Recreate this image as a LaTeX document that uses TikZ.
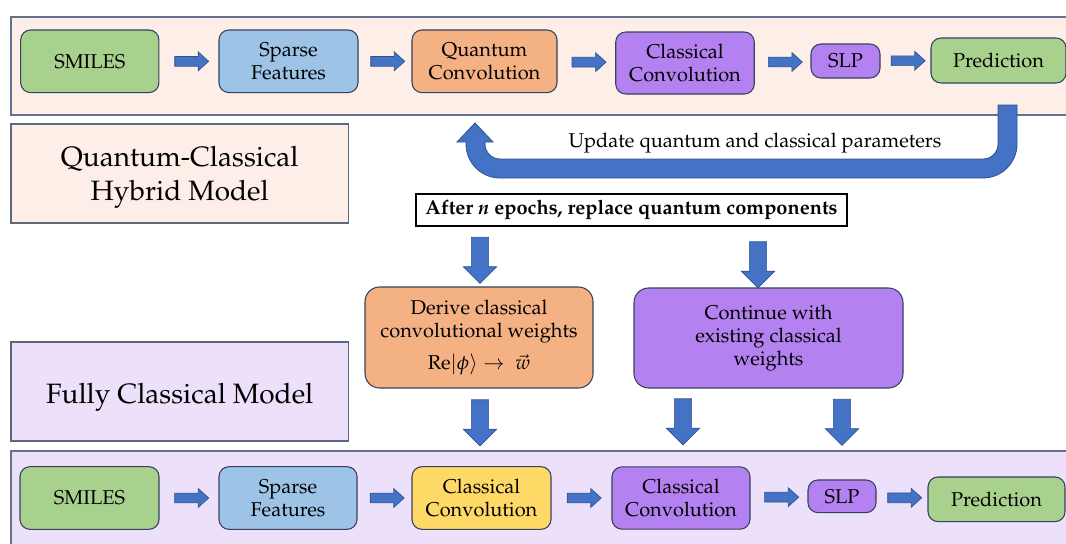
\documentclass[tikz,border=0pt]{standalone}
\usepackage[T1]{fontenc}
\usepackage{mathpazo}
\usetikzlibrary{calc,shapes.arrows}

\definecolor{panelpeach}{RGB}{253,239,231}
\definecolor{panellilac}{RGB}{237,224,250}
\definecolor{panelline}{RGB}{100,114,142}
\definecolor{boxline}{RGB}{52,66,94}
\definecolor{smilesgreen}{RGB}{169,209,142}
\definecolor{sparseblue}{RGB}{157,195,230}
\definecolor{quantorange}{RGB}{244,177,131}
\definecolor{classpurple}{RGB}{180,130,240}
\definecolor{classyellow}{RGB}{255,217,102}
\definecolor{arrowblue}{RGB}{68,114,196}
\definecolor{arrowline}{RGB}{47,82,143}

\tikzset{
	stage/.style={draw=boxline, line width=0.8pt, rounded corners=7.5pt, align=center, inner sep=0pt, font=\fontsize{15}{17.5}\selectfont},
	flowarrow/.style={single arrow, draw=arrowline, fill=arrowblue, line width=0.5pt, inner xsep=0pt, inner ysep=3.4pt, minimum height=25.5pt, single arrow head extend=3.4pt, single arrow tip angle=84},
	downarrow/.style={single arrow, draw=arrowline, fill=arrowblue, line width=0.5pt, inner xsep=0pt, inner ysep=6.2pt, minimum height=34.5pt, single arrow head extend=6pt, rotate=-90},
	panel/.style={draw=panelline, line width=1.1pt},
	modelbox/.style={draw=boxline!80!white, line width=0.9pt, minimum width=253pt, minimum height=74.25pt},
	modeltext/.style={align=center, font=\fontsize{21}{25.5}\selectfont}
}

\begin{document}
\begin{tikzpicture}[x=0.75pt,y=-0.75pt]
				\useasboundingbox (0,0) rectangle (1066,543);
				\clip (0,0) rectangle (1066,543);
				\fill[white] (0,0) rectangle (1066,543);
				
				% the two model panels
				\draw[panel, fill=panelpeach] (11,17) rectangle (1080,115);
				\draw[panel, fill=panellilac] (11,451) rectangle (1080,560);
				
				\node[modelbox, fill=panelpeach] (hybrid) at (179.75,173.5) {};
				\node[modeltext] (hybridtxt) at (179.75,177) {Quantum-Classical\\Hybrid Model};
				\node[modelbox, fill=panellilac] (fully) at (179.75,391.5) {};
				\node[modeltext] (fullytxt) at (179.75,397) {Fully Classical Model};
				
				% feedback arrow
				\draw[fill=arrowblue, draw=arrowline, line width=0.6pt] (998,105) -- (1017,105) -- (1017,144) arc[start angle=0, end angle=90, radius=34] -- (500,178) arc[start angle=90, end angle=180, radius=34] -- (466,142) -- (457,142) -- (475,123) -- (493,142) -- (485,142) -- (485,144) arc[start angle=180, end angle=90, radius=15] -- (983,159) arc[start angle=90, end angle=0, radius=15] -- cycle;
				\node[font=\fontsize{15}{17.5}\selectfont] (upd) at (755,143) {Update quantum and classical parameters};
				
				% hybrid model
				\node[stage, fill=smilesgreen, minimum width=103.7pt, minimum height=47pt] (smi1) at (89.8,61.3) {SMILES};
				\node[stage, fill=sparseblue, minimum width=104.25pt, minimum height=47pt] (sf1) at (288.5,61.3) {Sparse\\Features};
				\node[stage, fill=quantorange, minimum width=108.75pt, minimum height=47pt] (qc1) at (484.5,61.3) {Quantum\\Convolution};
				\node[stage, fill=classpurple, minimum width=103.9pt, minimum height=46.5pt] (cc1) at (685,63) {Classical\\Convolution};
				\node[stage, fill=classpurple, minimum width=51.75pt, minimum height=25.5pt] (slp1) at (845.5,61) {SLP};
				\node[stage, fill=smilesgreen, minimum width=101.25pt, minimum height=33.75pt] (pred1) at (998.5,60.5) {Prediction};
				
				\node[flowarrow] (h1) at ($(smi1.east)!0.5!(sf1.west)$) {};
				\node[flowarrow] (h2) at ($(sf1.east)!0.5!(qc1.west)$) {};
				\node[flowarrow] (h3) at ($(qc1.east)!0.5!(cc1.west)$) {};
				\node[flowarrow] (h4) at ($(cc1.east)!0.5!(slp1.west)$) {};
				\node[flowarrow] (h5) at ($(slp1.east)!0.5!(pred1.west)$) {};
				
				% switch over
				\node[draw=black, line width=1.1pt, minimum width=323.25pt, minimum height=24pt, inner sep=0pt, font=\bfseries\fontsize{15}{17.5}\selectfont] (after) at (631.5,210) {After \textit{n} epochs, replace quantum components};
				
				\node[stage, fill=quantorange, rounded corners=11pt, minimum width=171pt, minimum height=75.75pt] (derive) at (479,337.5) {Derive classical\\convolutional weights\\[6pt]$\mathrm{Re}|\phi\rangle \rightarrow\ \vec{w}$};
				\node[stage, fill=classpurple, rounded corners=11pt, minimum width=201.75pt, minimum height=75pt, font=\fontsize{15}{17.25}\selectfont] (keep) at (768.5,338) {Continue with\\existing classical\\weights};
				
				\node[downarrow] (d1) at (480,256) {};
				\node[downarrow] (d2) at (758,260.5) {};
				\node[downarrow] (d3) at (480,418.5) {};
				\node[downarrow] (d4) at (683,417.5) {};
				\node[downarrow] (d5) at (842,418) {};
				
				% fully classical model
				\node[stage, fill=smilesgreen, minimum width=104.25pt, minimum height=47pt] (smi2) at (89.5,498) {SMILES};
				\node[stage, fill=sparseblue, minimum width=103.5pt, minimum height=47pt] (sf2) at (288,498) {Sparse\\Features};
				\node[stage, fill=classyellow, minimum width=104.25pt, minimum height=47pt] (cc2) at (481.5,498) {Classical\\Convolution};
				\node[stage, fill=classpurple, minimum width=103.5pt, minimum height=46.75pt] (cc3) at (681,498) {Classical\\Convolution};
				\node[stage, fill=classpurple, minimum width=51pt, minimum height=24.5pt] (slp2) at (842,496.3) {SLP};
				\node[stage, fill=smilesgreen, minimum width=102.75pt, minimum height=33.5pt] (pred2) at (996.5,499.3) {Prediction};
				
				\node[flowarrow] (b1) at ($(smi2.east)!0.5!(sf2.west)$) {};
				\node[flowarrow] (b2) at ($(sf2.east)!0.5!(cc2.west)$) {};
				\node[flowarrow] (b3) at ($(cc2.east)!0.5!(cc3.west)$) {};
				\node[flowarrow] (b4) at ($(cc3.east)!0.5!(slp2.west)$) {};
				\node[flowarrow] (b5) at ($(slp2.east)!0.5!(pred2.west)$) {};
\end{tikzpicture}
\end{document}
